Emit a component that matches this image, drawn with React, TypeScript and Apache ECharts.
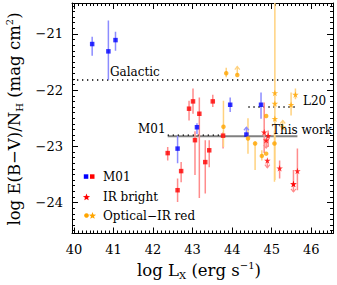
import React, { useEffect, useRef } from 'react';
import * as echarts from 'echarts';

const FONT = 'DejaVu Serif';

// Axis ranges and tick values
const xRange = [39.95, 46.55];
const yRange = [-24.55, -20.45];
const xMajorTicks = [40, 41, 42, 43, 44, 45, 46];
const yMajorTicks = [-24, -23, -22, -21];

// [log Lx, log E(B-V)/NH, lower end of error bar, upper end of error bar]
const m01Blue = [
  [40.46, -21.18, -21.39, -21.05],
  [40.87, -21.31, -21.82, -20.76],
  [41.05, -21.11, -21.30, -20.96],
  [42.62, -23.04, -23.30, -22.81],
  [43.11, -22.66, -22.78, -22.59],
  [43.95, -22.26, -22.39, -22.13],
  [44.73, -22.26, -22.51, -22.04],
];
// [log Lx, value, arrow tip]  (lower limits)
const m01BlueLimits = [[44.36, -22.79, -22.66]];

const m01Red = [
  [42.37, -23.12, -23.25, -23.01],
  [42.71, -23.44, -23.64, -23.28],
  [42.62, -23.78, -23.99, -23.57],
  [42.91, -22.33, -22.54, -22.19],
  [43.01, -22.20, -22.42, -21.97],
  [43.17, -22.42, -23.92, -22.13],
  [43.06, -22.89, -23.51, -22.73],
  [43.32, -23.28, -23.84, -22.89],
  [43.42, -23.07, -23.37, -22.89],
  [43.51, -22.20, -22.30, -22.08],
  [43.77, -22.81, -23.04, -22.75],
];

const irBright = [
  [44.81, -22.75, -23.12, -22.22],
  [44.91, -22.81, -23.01, -22.72],
  [45.20, -23.39, -23.57, -23.25],
  [45.65, -23.44, -23.78, -23.04],
  [45.55, -23.67, -23.67, -23.42],
];
// upper limits
const irBrightLimits = [
  [44.86, -22.89, -23.03],
  [44.89, -23.25, -23.38],
  [45.55, -23.67, -23.81],
];

const opticalIrCircles = [
  [43.85, -21.70, -21.77, -21.60],
  [43.78, -22.65, -23.01, -22.19],
  [44.40, -22.86, -23.13, -22.50],
  [44.58, -22.95, -23.42, -22.91],
  [44.75, -23.17, -23.25, -23.07],
  [44.86, -23.13, -23.13, -23.13],
  [44.86, -22.46, -22.46, -22.46],
  [45.07, -22.95, -23.63, -22.72],
];
const opticalIrCircleLimits = [[44.13, -21.73, -21.58]];

const opticalIrStars = [
  [45.08, -22.05, -22.05, -22.05],
  [45.08, -22.24, -23.60, -20.30],
  [45.08, -22.51, -22.51, -22.51],
  [45.60, -22.08, -22.16, -21.97],
  [45.49, -22.26, -22.45, -22.04],
];
const opticalIrStarLimits = [[45.28, -22.66, -22.54]];

// Reference levels
const galacticLevel = -21.82;
const galacticRange = [39.95, 46.55];
const m01Level = -22.8;
const m01Range = [42.37, 43.77];
const l20Level = -22.3;
const l20Range = [44.41, 45.6];
const thisWorkLevel = -22.82;
const thisWorkRange = [42.37, 45.65];

const BLUE = '#0000ff';
const RED = '#ff0000';
const ORANGE = '#ffa500';
const BLUE_BAR = '#8c8cff';
const RED_BAR = '#ff8c8c';
const ORANGE_BAR = '#ffd27f';

const STAR = 'path://M50 0 L61.8 35.3 L98.9 35.3 L68.8 57.2 L80.3 92.7 L50 70.8 L19.7 92.7 L31.2 57.2 L1.1 35.3 L38.2 35.3 Z';

function minorValues(from: number, to: number, step: number) {
  const out: number[] = [];
  const n = Math.round((to - from) / step);
  for (let i = 0; i <= n; i++) out.push(Math.round((from + i * step) * 100) / 100);
  return out;
}
const xMinorTicks = minorValues(40, 46.5, 0.1);
const yMinorTicks = minorValues(-24.5, -20.5, 0.1);

function starPoints(cx: number, cy: number, R: number) {
  const pts: number[][] = [];
  const r = R * 0.42;
  for (let i = 0; i < 10; i++) {
    const a = -Math.PI / 2 + (i * Math.PI) / 5;
    const rad = i % 2 === 0 ? R : r;
    pts.push([cx + rad * Math.cos(a), cy + rad * Math.sin(a)]);
  }
  return pts;
}

const errorBarSeries = (data: number[][], color: string) => ({
  type: 'custom',
  data,
  clip: true,
  silent: true,
  z: 2,
  encode: { x: 0, y: 1 },
  renderItem: (_p: any, api: any) => {
    const x = api.value(0);
    const lo = api.value(2);
    const hi = api.value(3);
    if (lo === hi) return { type: 'group', children: [] };
    const a = api.coord([x, lo]);
    const b = api.coord([x, hi]);
    return {
      type: 'line',
      shape: { x1: a[0], y1: a[1], x2: b[0], y2: b[1] },
      style: { stroke: color, lineWidth: 1.5 },
    };
  },
});

const limitSeries = (data: number[][], color: string) => ({
  type: 'custom',
  data,
  clip: true,
  silent: true,
  z: 2,
  encode: { x: 0, y: 1 },
  renderItem: (_p: any, api: any) => {
    const x = api.value(0);
    const p = api.coord([x, api.value(1)]);
    const t = api.coord([x, api.value(2)]);
    const dir = t[1] < p[1] ? 1 : -1;
    return {
      type: 'group',
      children: [
        { type: 'line', shape: { x1: p[0], y1: p[1], x2: t[0], y2: t[1] }, style: { stroke: color, lineWidth: 1.5 } },
        {
          type: 'polyline',
          shape: { points: [[t[0] - 2.5, t[1] + dir * 3], [t[0], t[1]], [t[0] + 2.5, t[1] + dir * 3]] },
          style: { stroke: color, lineWidth: 1.2, fill: 'none' },
        },
      ],
    };
  },
});

const levelLine = (range: number[], level: number, style: any) => ({
  type: 'line',
  data: [[range[0], level], [range[1], level]],
  symbol: 'none',
  silent: true,
  z: 1,
  lineStyle: style,
});

const pts = (arr: number[][]) => arr.map((d) => [d[0], d[1]]);

const baseAxis = {
  type: 'value',
  splitLine: { show: false },
  axisLine: { show: false, onZero: false },
  axisLabel: { show: false },
};
const xAxisCfg = (position: string, ticks: number[], len: number, line: boolean, labels: boolean) => ({
  ...baseAxis,
  position,
  min: xRange[0],
  max: xRange[1],
  axisLine: { show: line, onZero: false, lineStyle: { color: '#000', width: 1 } },
  axisTick: { show: true, inside: true, length: len, customValues: ticks, lineStyle: { color: '#000', width: 1 } },
  axisLabel: labels
    ? { show: true, customValues: ticks, margin: 9, color: '#000', fontFamily: FONT, fontSize: 13 }
    : { show: false },
});
const yAxisCfg = (position: string, ticks: number[], len: number, line: boolean, labels: boolean) => ({
  ...baseAxis,
  position,
  min: yRange[0],
  max: yRange[1],
  axisLine: { show: line, onZero: false, lineStyle: { color: '#000', width: 1 } },
  axisTick: { show: true, inside: true, length: len, customValues: ticks, lineStyle: { color: '#000', width: 1 } },
  axisLabel: labels
    ? {
        show: true,
        customValues: ticks,
        margin: 9,
        color: '#000',
        fontFamily: FONT,
        fontSize: 13,
        padding: [6, 0, 0, 0],
        formatter: (v: number) => String(v).replace('-', '\u2212'),
      }
    : { show: false },
});

const titleRich = {
  a: { fontFamily: FONT, fontSize: 16.5, lineHeight: 20, fill: '#000' },
  s: { fontFamily: FONT, fontSize: 10, lineHeight: 12, verticalAlign: 'bottom', fill: '#000' },
  p: { fontFamily: FONT, fontSize: 10, lineHeight: 12, verticalAlign: 'top', fill: '#000' },
};

export default function App() {
  const ref = useRef<HTMLDivElement>(null);
  useEffect(() => {
    if (!ref.current) return;
    const chart = echarts.init(ref.current, undefined, { renderer: 'svg' });
    const txt = (text: string, x: number, y: number, size = 12) => ({
      type: 'text',
      x,
      y,
      z: 10,
      style: { text, fill: '#000', fontFamily: FONT, fontSize: size, align: 'left', verticalAlign: 'middle' },
    });
    chart.setOption({
      animation: false,
      grid: { left: 72, top: 3, width: 261, height: 230.5, containLabel: false },
      xAxis: [
        xAxisCfg('bottom', xMajorTicks, 6, true, true),
        xAxisCfg('bottom', xMinorTicks, 3, false, false),
        xAxisCfg('top', xMajorTicks, 6, true, false),
        xAxisCfg('top', xMinorTicks, 3, false, false),
      ],
      yAxis: [
        yAxisCfg('left', yMajorTicks, 6, true, true),
        yAxisCfg('left', yMinorTicks, 3, false, false),
        yAxisCfg('right', yMajorTicks, 6, true, false),
        yAxisCfg('right', yMinorTicks, 3, false, false),
      ],
      series: [
        levelLine(galacticRange, galacticLevel, { color: '#000', width: 1.3, type: [1.3, 3.7] }),
        levelLine(thisWorkRange, thisWorkLevel, { color: '#808080', width: 2, type: 'solid' }),
        levelLine(m01Range, m01Level, { color: '#000', width: 1.3, type: [1.3, 3.7] }),
        levelLine(l20Range, l20Level, { color: '#000', width: 1.3, type: [1.3, 3.7] }),
        errorBarSeries(m01Blue, BLUE_BAR),
        errorBarSeries(m01Red, RED_BAR),
        errorBarSeries(irBright, RED_BAR),
        errorBarSeries(opticalIrCircles, ORANGE_BAR),
        errorBarSeries(opticalIrStars, ORANGE_BAR),
        limitSeries(m01BlueLimits, BLUE_BAR),
        limitSeries(irBrightLimits, RED_BAR),
        limitSeries(opticalIrCircleLimits, ORANGE_BAR),
        limitSeries(opticalIrStarLimits, ORANGE_BAR),
        { type: 'scatter', data: pts(m01Blue).concat(pts(m01BlueLimits)), symbol: 'rect', symbolSize: 4.5, itemStyle: { color: BLUE }, z: 3, silent: true },
        { type: 'scatter', data: pts(m01Red), symbol: 'rect', symbolSize: 4.5, itemStyle: { color: RED }, z: 3, silent: true },
        { type: 'scatter', data: pts(opticalIrCircles).concat(pts(opticalIrCircleLimits)), symbol: 'circle', symbolSize: 4.5, itemStyle: { color: ORANGE }, z: 3, silent: true },
        { type: 'scatter', data: pts(opticalIrStars).concat(pts(opticalIrStarLimits)), symbol: STAR, symbolSize: 6.5, itemStyle: { color: ORANGE }, z: 3, silent: true },
        { type: 'scatter', data: pts(irBright).concat(pts(irBrightLimits)), symbol: STAR, symbolSize: 6.5, itemStyle: { color: RED }, z: 3, silent: true },
      ],
      graphic: [
        txt('Galactic', 110, 72),
        txt('L20', 303, 101),
        txt('M01', 138, 129),
        txt('This work', 272, 130),
        txt('M01', 103, 176.5),
        txt('IR bright', 103, 197),
        txt('Optical\u2212IR red', 103, 215.5),
        { type: 'rect', shape: { x: 83.8, y: 174.3, width: 4.5, height: 4.5 }, style: { fill: BLUE }, z: 10 },
        { type: 'rect', shape: { x: 90, y: 174.3, width: 4.5, height: 4.5 }, style: { fill: RED }, z: 10 },
        { type: 'polygon', shape: { points: starPoints(86.5, 197.3, 3.8) }, style: { fill: RED }, z: 10 },
        { type: 'circle', shape: { cx: 86.5, cy: 215.5, r: 2.3 }, style: { fill: ORANGE }, z: 10 },
        { type: 'polygon', shape: { points: starPoints(92.5, 215.8, 3.8) }, style: { fill: ORANGE }, z: 10 },
        {
          type: 'text',
          x: 199,
          y: 270,
          z: 10,
          style: {
            text: '{a|log L}{s|X}{a| (erg s}{p|\u22121}{a|)}',
            align: 'center',
            verticalAlign: 'middle',
            fill: '#000',
            rich: titleRich,
          },
        },
        {
          type: 'text',
          x: 14.5,
          y: 119,
          rotation: Math.PI / 2,
          z: 10,
          style: {
            text: '{a|log E(B\u2212V)/N}{s|H}{a| (mag cm}{p|2}{a|)}',
            align: 'center',
            verticalAlign: 'middle',
            fill: '#000',
            rich: titleRich,
          },
        },
      ],
    });
    return () => chart.dispose();
  }, []);
  return <div ref={ref} style={{ position: 'absolute', left: 0, top: 0, width: 337, height: 285 }} />;
}
